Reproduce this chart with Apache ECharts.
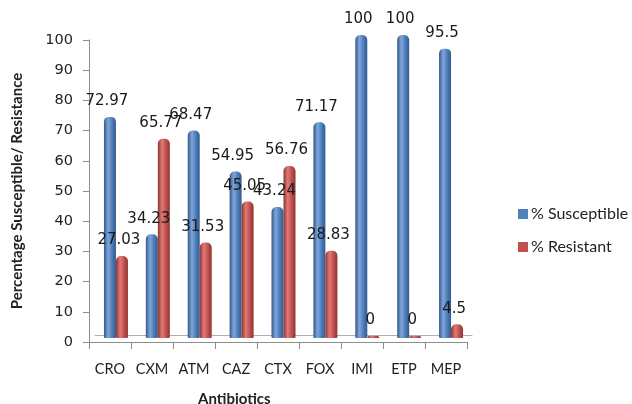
<!DOCTYPE html>
<html>
<head>
<meta charset="utf-8">
<script src="https://cdn.jsdelivr.net/npm/echarts@6/dist/echarts.min.js"></script>
<style>
html,body{margin:0;padding:0;background:#fff;}
#chart{width:632px;height:404px;}
</style>
</head>
<body>
<div id="chart"></div>
<script>
const categories = ['CRO','CXM','ATM','CAZ','CTX','FOX','IMI','ETP','MEP'];
const susceptible = [72.97, 34.23, 68.47, 54.95, 43.24, 71.17, 100, 100, 95.5];
const resistant = [27.03, 65.77, 31.53, 45.05, 56.76, 28.83, 0, 0, 4.5];
const yTicks = [0,10,20,30,40,50,60,70,80,90,100];
const seriesNames = ['% Susceptible', '% Resistant'];

function cyl(dark, mid, light) {
  return new echarts.graphic.LinearGradient(0, 0, 1, 0, [
    {offset: 0, color: dark},
    {offset: 0.35, color: light},
    {offset: 0.7, color: mid},
    {offset: 1, color: dark}
  ]);
}
const blueFill = cyl('#34598a', '#4a7bb8', '#7fa6da');
const redFill = cyl('#8c3532', '#bd4e4b', '#e07a77');

const chart = echarts.init(document.getElementById('chart'), null, {renderer: 'canvas'});
const labelStyle = {
  show: true, position: 'top', distance: 8, offset: [-3, 0],
  fontFamily: 'DejaVu Sans', fontSize: 15, color: '#1a1a1a'
};
chart.setOption({
  animation: false,
  backgroundColor: '#fff',
  title: {
    text: 'Antibiotics', left: 193, top: 387,
    textStyle: {fontFamily: 'Lato', fontWeight: 'bold', fontSize: 15, color: '#222'}
  },
  legend: {
    orient: 'vertical', left: 513, top: 201, itemWidth: 10, itemHeight: 10, itemGap: 17,
    icon: 'rect',
    textStyle: {fontFamily: 'Lato', fontSize: 16, color: '#222', padding: [0,0,0,-2]},
    data: [
      {name: seriesNames[0], itemStyle: {color: '#4f81bd'}},
      {name: seriesNames[1], itemStyle: {color: '#c0504d'}}
    ]
  },
  grid: [
    {left: 89, right: 165, top: 40, bottom: 62},
    {left: 95, right: 160, top: 35, bottom: 66}
  ],
  xAxis: [
    {
      gridIndex: 0, type: 'category', data: categories,
      axisLine: {lineStyle: {color: '#8c8c8c'}},
      axisTick: {show: true, length: 7, interval: 0, lineStyle: {color: '#8c8c8c'}},
      axisLabel: {margin: 20, interval: 0, fontFamily: 'Lato', fontSize: 14.5, color: '#222'}
    },
    {
      gridIndex: 1, type: 'category', data: categories, offset: -3,
      axisLine: {show: true, lineStyle: {color: '#b0b0b0'}},
      axisTick: {show: false}, axisLabel: {show: false}
    }
  ],
  yAxis: [
    {
      gridIndex: 0, type: 'value', min: 0, max: 100, interval: 10,
      name: 'Percentage Susceptible/ Resistance', nameLocation: 'middle', nameGap: 64,
      nameTextStyle: {fontFamily: 'Lato', fontWeight: 'bold', fontSize: 15, color: '#222'},
      axisLine: {show: true, lineStyle: {color: '#8c8c8c'}},
      axisTick: {show: true, length: 6, lineStyle: {color: '#8c8c8c'}},
      axisLabel: {margin: 16, fontFamily: 'DejaVu Sans', fontSize: 14.5, color: '#222',
        formatter: v => yTicks.includes(v) ? String(v) : ''},
      splitLine: {show: false}
    },
    {
      gridIndex: 1, type: 'value', min: 0, max: 100, interval: 10,
      axisLine: {show: false}, axisTick: {show: false}, axisLabel: {show: false},
      splitLine: {show: false}
    }
  ],
  series: [
    {
      name: seriesNames[0], type: 'bar', xAxisIndex: 1, yAxisIndex: 1,
      data: susceptible, barWidth: 12, barGap: '0%',
      itemStyle: {color: blueFill, borderRadius: [5,5,1,1]},
      label: labelStyle
    },
    {
      name: seriesNames[1], type: 'bar', xAxisIndex: 1, yAxisIndex: 1,
      data: resistant, barWidth: 12, barGap: '0%', barMinHeight: 2,
      itemStyle: {color: redFill, borderRadius: [5,5,1,1]},
      label: labelStyle
    }
  ]
});
</script>
</body>
</html>
